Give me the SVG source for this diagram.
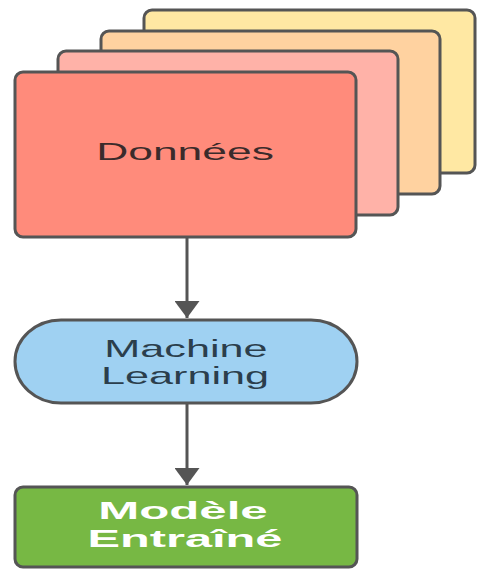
<svg xmlns="http://www.w3.org/2000/svg" width="477" height="569" viewBox="0 0 477 569">
  <style>
    .card { stroke: #555555; stroke-width: 3; }
    .edge { stroke: #555555; stroke-width: 3; fill: none; }
    .lbl { font-family: "Liberation Sans", Arial, sans-serif; font-size: 24px; text-anchor: middle; }
  </style>
  <defs>
    <marker id="arrow" viewBox="0 0 17 25" refX="17" refY="12.5" markerWidth="17" markerHeight="25" markerUnits="userSpaceOnUse" orient="auto">
      <path d="M0,0 L17,12.5 L0,25 Z" fill="#555555"/>
    </marker>
  </defs>

  <!-- Stacked data cards, back to front -->
  <g id="card-yellow">
    <rect class="card" x="144" y="10" width="331" height="163" rx="8" fill="#ffe8a3"/>
  </g>
  <g id="card-peach">
    <rect class="card" x="101" y="31" width="339" height="163" rx="8" fill="#ffd2a0"/>
  </g>
  <g id="card-pink">
    <rect class="card" x="58" y="51" width="340" height="164" rx="8" fill="#ffb2a8"/>
  </g>
  <g id="donnees">
    <rect class="card" x="15" y="72" width="341" height="165" rx="8" fill="#ff8b7b"/>
    <text class="lbl" transform="translate(185,160) scale(1.85,1)" fill="#3b2b2b">Données</text>
  </g>

  <!-- Connectors -->
  <g id="connectors">
    <line class="edge" x1="187" y1="238" x2="187" y2="318" marker-end="url(#arrow)"/>
    <line class="edge" x1="187" y1="404" x2="187" y2="485" marker-end="url(#arrow)"/>
  </g>

  <g id="machine-learning">
    <rect class="card" x="15" y="320" width="342" height="83" rx="46" ry="41.5" fill="#9fd1f2"/>
    <text class="lbl" transform="translate(186,357) scale(1.8,1)" fill="#2b3e4c" font-size="25">Machine</text>
    <text class="lbl" transform="translate(185,384) scale(1.8,1)" fill="#2b3e4c" font-size="25">Learning</text>
  </g>

  <g id="modele">
    <rect class="card" x="15" y="487" width="342" height="80" rx="8" fill="#77b844"/>
    <text class="lbl" transform="translate(183,519) scale(2.05,1)" fill="#ffffff" font-weight="bold">Modèle</text>
    <text class="lbl" transform="translate(185,547) scale(2.03,1)" fill="#ffffff" font-weight="bold">Entraîné</text>
  </g>
</svg>
